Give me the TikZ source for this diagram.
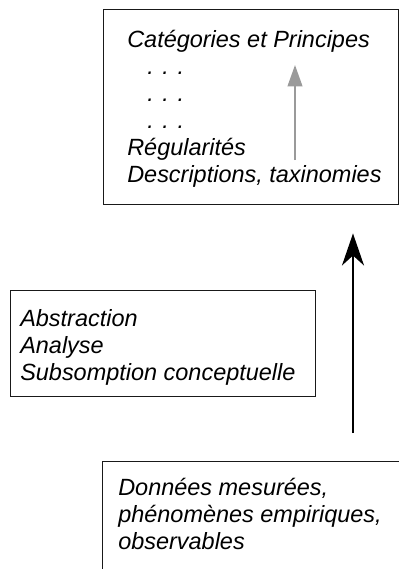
\documentclass[tikz,border=0pt]{standalone}
\usepackage{fontspec}
\setmainfont{Liberation Sans}
\usepackage{tikz}
\usetikzlibrary{arrows.meta}
\usetikzlibrary{calc}
\usetikzlibrary{positioning}
\definecolor{risegray}{HTML}{9A9A9A}
\tikzset{
	frame/.style={draw=black!90, line width=1.1pt, inner sep=0pt, anchor=north west},
	lines/.style={align=left, inner sep=0pt, anchor=north west, font=\itshape\fontsize{17.6pt}{20.25pt}\selectfont},
	rise/.style={-{Stealth[length=24pt,width=16.5pt,inset=7.5pt]}, line width=1.6pt},
	grayrise/.style={-{Triangle[length=16pt,width=11pt]}, line width=1.5pt, risegray},
}

\begin{document}
\begin{tikzpicture}[x=0.75pt,y=-0.75pt]
	\useasboundingbox (0,0) rectangle (399,569);
	\clip (0,0) rectangle (399,569);

	% the three frames
	\node[frame, minimum width=221.25pt, minimum height=146.25pt] (cat) at (103,9) {};
	\node[frame, minimum width=228.75pt, minimum height=79.5pt] (abst) at (10,290) {};
	\node[frame, minimum width=240pt, minimum height=105pt] (data) at (102,461) {};

	% texts
	\node[lines] (catlines) at (127,30) {Catégories et Principes\\
		\hspace*{15pt}. . .\\
		\hspace*{15pt}. . .\\
		\hspace*{15pt}. . .\\
		Régularités\\
		Descriptions, taxinomies};
	\node[lines] (abstlines) at (20,309.5) {Abstraction\\
		Analyse\\
		Subsomption conceptuelle};
	\node[lines] (datalines) at (118,478) {Données mesurées,\\
		phénomènes empiriques,\\
		observables};

	% arrows
	\coordinate (risex) at (353,0);
	\draw[rise, shorten <=21pt, shorten >=21pt] (data.north -| risex) -- (cat.south -| risex);
	\coordinate (graybase) at (295,160);
	\coordinate (graytip) at (295,65);
	\draw[grayrise] (graybase) -- (graytip);
\end{tikzpicture}
\end{document}
